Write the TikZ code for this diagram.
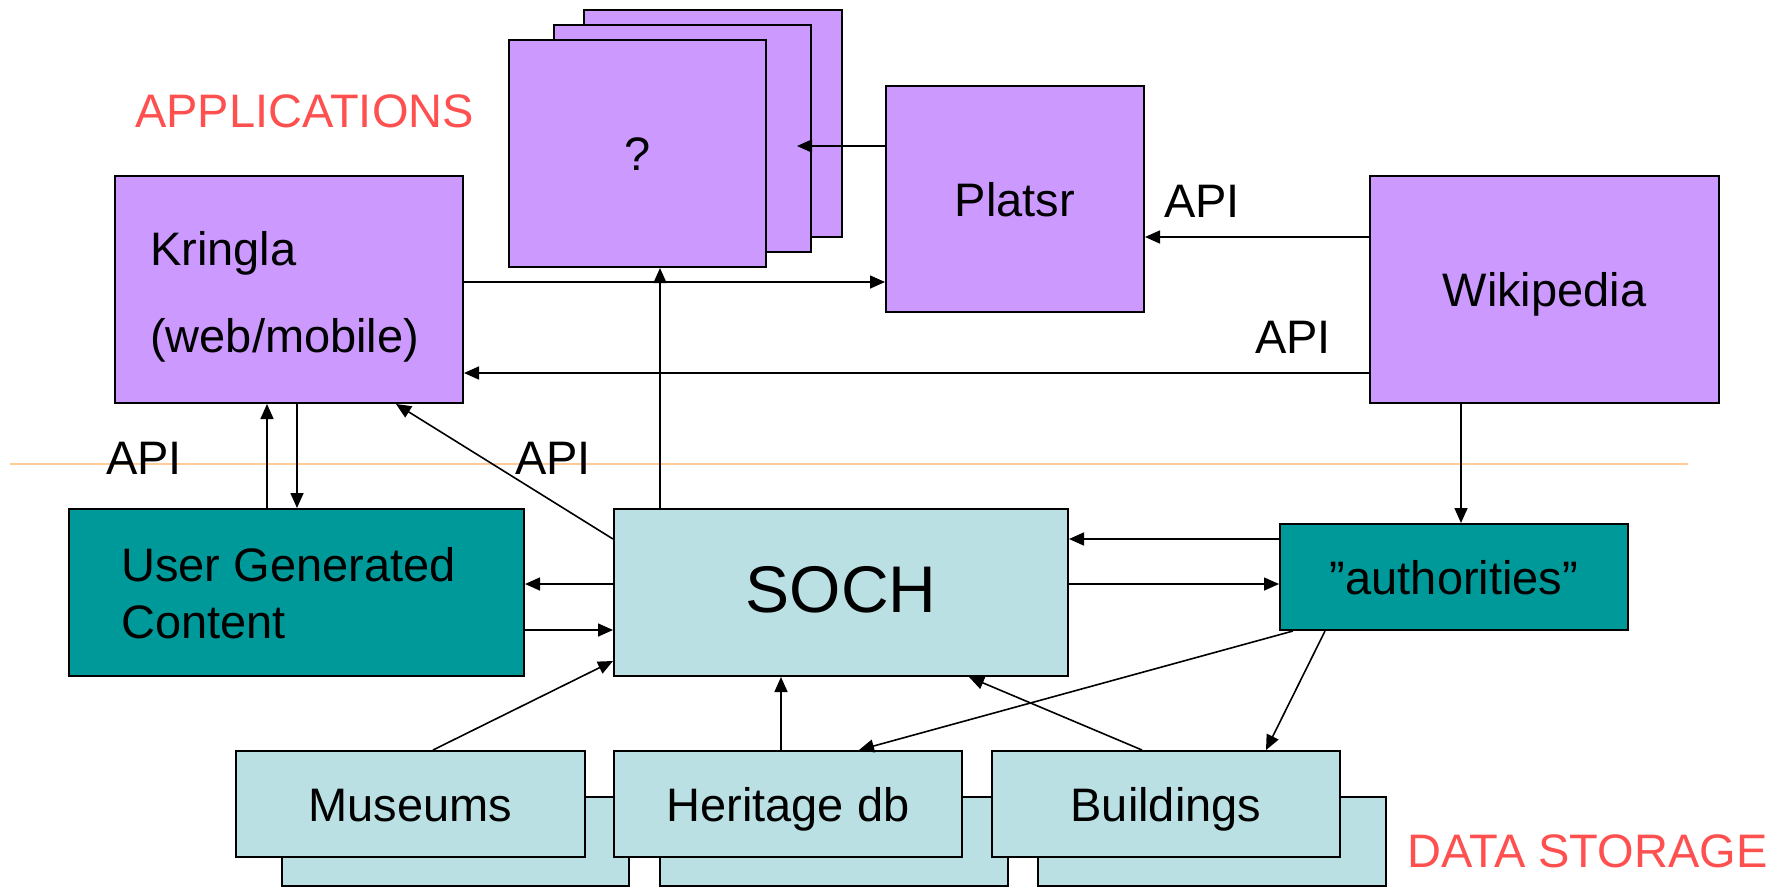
\documentclass[tikz,border=0pt]{standalone}
\usepackage{fontspec}
\setmainfont{Liberation Sans}
\usetikzlibrary{arrows.meta}
\definecolor{appcol}{HTML}{CC99FF}
\definecolor{tealcol}{HTML}{009999}
\definecolor{datacol}{HTML}{BBE0E3}
\definecolor{redtxt}{HTML}{FF5050}
\definecolor{orangeline}{HTML}{FFCC99}
\begin{document}
\begin{tikzpicture}[x=1pt,y=-1pt,
  box/.style={draw=black,line width=2pt,inner sep=0pt,anchor=center,font=\fontsize{47}{56}\selectfont,text height=34pt,text depth=0pt},
  app/.style={box,fill=appcol},
  ugc/.style={box,fill=tealcol},
  data/.style={box,fill=datacol},
  lbl/.style={inner sep=0pt,anchor=base west,font=\fontsize{47}{56}\selectfont},
  conn/.style={line width=1.6pt,-{Triangle[length=15pt,width=13pt]}},
  plain/.style={line width=1.6pt}]
\useasboundingbox (0,0) rectangle (1783,887);
% separator line
\coordinate (sepL) at (10,464);
\coordinate (sepR) at (1688,464);
\draw[orangeline,line width=2pt] (sepL) -- (sepR);
% application stack
\node[app,minimum width=258pt,minimum height=227pt] (card3) at (713,123.5) {};
\node[app,minimum width=257pt,minimum height=227pt] (card2) at (682.5,138.5) {};
\node[app,minimum width=257pt,minimum height=227pt] (card1) at (637.5,153.5) {?};
\node[app,minimum width=348pt,minimum height=227pt] (kringla) at (289,289.5) {};
\node[lbl] (kringlaA) at (150,265) {Kringla};
\node[lbl] (kringlaB) at (150,352) {(web/mobile)};
\node[app,minimum width=258pt,minimum height=226pt] (platsr) at (1015,199) {Platsr};
\node[app,minimum width=349pt,minimum height=227pt] (wiki) at (1544.5,289.5) {Wikipedia};
% middle layer
\node[ugc,minimum width=455pt,minimum height=167pt] (ugc) at (296.5,592.5) {};
\node[lbl] (ugcA) at (121,581) {User Generated};
\node[lbl] (ugcB) at (121,638) {Content};
\node[data,minimum width=454pt,minimum height=167pt,font=\fontsize{66}{78}\selectfont,text height=40pt] (soch) at (841,592.5) {SOCH};
\node[ugc,minimum width=348pt,minimum height=106pt] (auth) at (1454,577) {”authorities”};
% data storage back boxes
\node[data,minimum width=347pt,minimum height=89pt] (museumsB) at (455.5,841.5) {};
\node[data,minimum width=348pt,minimum height=89pt] (heritageB) at (834,841.5) {};
\node[data,minimum width=348pt,minimum height=89pt] (buildingsB) at (1212,841.5) {};
\node[data,minimum width=349pt,minimum height=106pt] (museums) at (410.5,804) {Museums};
\node[data,minimum width=348pt,minimum height=106pt] (heritage) at (788,804) {Heritage db};
\node[data,minimum width=348pt,minimum height=106pt] (buildings) at (1166,804) {Buildings};
% labels
\node[lbl,text=redtxt] (apps) at (135,127) {APPLICATIONS};
\node[lbl,text=redtxt] (storage) at (1407,867) {DATA STORAGE};
\node[lbl] (api1) at (1164,217) {API};
\node[lbl] (api2) at (1255,353) {API};
\node[lbl] (api3) at (106,474) {API};
\node[lbl] (api4) at (515,474) {API};
% connectors
\coordinate (qtip) at (797,146);
\draw[conn] (platsr.west |- 0,146) -- (qtip);
\draw[conn] (kringla.east |- 0,282) -- (platsr.west |- 0,282);
\draw[conn] (soch.north -| 660,0) -- (card1.south -| 660,0);
\draw[conn] (wiki.west |- 0,237) -- (platsr.east |- 0,237);
\draw[conn] (wiki.west |- 0,373) -- (kringla.east |- 0,373);
\draw[conn] (ugc.north -| 267,0) -- (kringla.south -| 267,0);
\draw[conn] (kringla.south -| 297,0) -- (ugc.north -| 297,0);
\draw[conn] (soch.west |- 0,539) -- (kringla.south -| 396,0);
\draw[conn] (wiki.south -| 1461,0) -- (auth.north -| 1461,0);
\draw[conn] (auth.west |- 0,539) -- (soch.east |- 0,539);
\draw[conn] (soch.east |- 0,584) -- (auth.west |- 0,584);
\draw[conn] (soch.west |- 0,584) -- (ugc.east |- 0,584);
\draw[conn] (ugc.east |- 0,630) -- (soch.west |- 0,630);
\draw[conn] (museums.north -| 433,0) -- (soch.west |- 0,661);
\draw[conn] (heritage.north -| 781,0) -- (soch.south -| 781,0);
\draw[conn] (buildings.north -| 1142,0) -- (soch.south -| 969,0);
\draw[conn] (auth.south -| 1293,0) -- (heritage.north -| 859,0);
\draw[conn] (auth.south -| 1325,0) -- (buildings.north -| 1266,0);
\end{tikzpicture}
\end{document}
